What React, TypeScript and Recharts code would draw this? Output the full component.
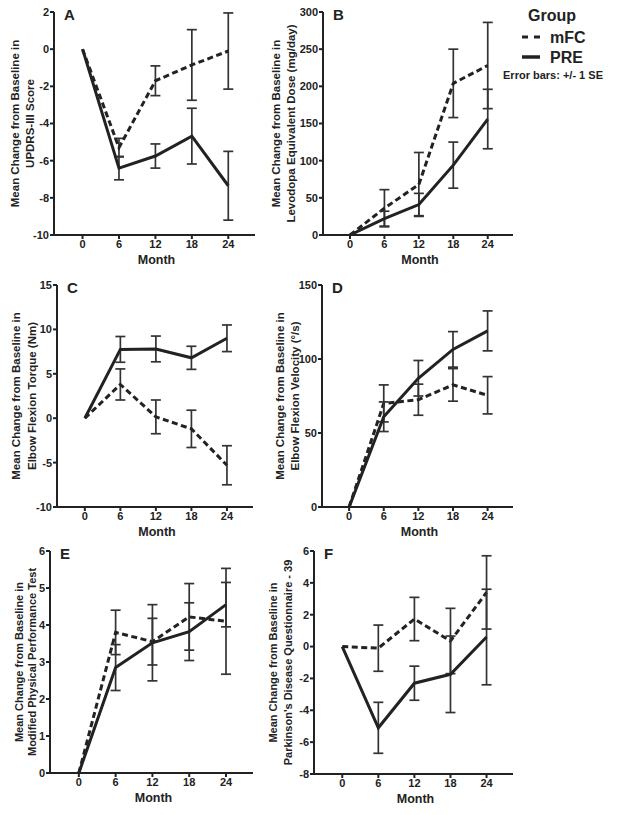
import React from "react";
import { ComposedChart, Line, XAxis, YAxis, ErrorBar, Label } from "recharts";

const months = [0, 6, 12, 18, 24];
const monthTicks = [0, 6, 12, 18, 24];
const xDomain: [number, number] = [-4.7, 28.4];

// A - UPDRS-III
const updrsMfc = [0, -5.3, -1.7, -0.85, -0.1];
const updrsMfcSe = [0, 0.5, 0.8, 1.9, 2.05];
const updrsPre = [0, -6.4, -5.75, -4.68, -7.35];
const updrsPreSe = [0, 0.63, 0.65, 1.5, 1.85];
const updrsTicks = [-10, -8, -6, -4, -2, 0, 2];

// B - levodopa equivalent dose
const ledMfc = [0, 36, 68, 204, 228];
const ledMfcSe = [0, 25, 43, 46, 58];
const ledPre = [0, 22, 41, 94, 156];
const ledPreSe = [0, 10, 15, 31, 40];
const ledTicks = [0, 50, 100, 150, 200, 250, 300];

// C - elbow flexion torque
const torqueMfc = [0, 3.8, 0.15, -1.2, -5.3];
const torqueMfcSe = [0, 1.75, 1.9, 2.1, 2.2];
const torquePre = [0, 7.75, 7.8, 6.8, 9.0];
const torquePreSe = [0, 1.45, 1.45, 1.3, 1.5];
const torqueTicks = [-10, -5, 0, 5, 10, 15];

// D - elbow flexion velocity
const velocityMfc = [0, 70, 72.5, 82.5, 75.5];
const velocityMfcSe = [0, 12.5, 10.5, 11, 12.6];
const velocityPre = [0, 61, 87, 106.5, 119];
const velocityPreSe = [0, 10, 12, 12, 13.5];
const velocityTicks = [0, 50, 100, 150];

// E - modified physical performance test
const mpptMfc = [0, 3.8, 3.55, 4.22, 4.1];
const mpptMfcSe = [0, 0.6, 0.63, 0.9, 1.43];
const mpptPre = [0, 2.85, 3.52, 3.82, 4.55];
const mpptPreSe = [0, 0.62, 1.03, 0.78, 0.6];
const mpptTicks = [0, 1, 2, 3, 4, 5, 6];

// F - PDQ-39
const pdqMfc = [0, -0.1, 1.73, 0.35, 3.4];
const pdqMfcSe = [0, 1.45, 1.36, 2.05, 2.3];
const pdqPre = [0, -5.1, -2.3, -1.74, 0.6];
const pdqPreSe = [0, 1.6, 1.07, 2.4, 3.0];
const pdqTicks = [-8, -6, -4, -2, 0, 2, 4, 6];

const FONT = "'Liberation Sans', Arial, sans-serif";
const INK = "#222";

type Box = { left: number; top: number; plotLeft: number; plotTop: number; plotRight: number; plotBottom: number };

type PanelProps = {
  letter: string;
  box: Box;
  mfc: number[];
  mfcSe: number[];
  pre: number[];
  preSe: number[];
  yDomain: [number, number];
  yTicks: number[];
  title: [string, string];
  titleX: [number, number];
  titleSize?: number;
};

function Panel(p: PanelProps) {
  const { left, top, plotLeft, plotTop, plotRight, plotBottom } = p.box;
  const width = plotRight - left + 12;
  const height = plotBottom - top + 34;
  const rows = months.map((m, i) => ({
    month: m,
    mfc: p.mfc[i],
    mfcSe: p.mfcSe[i],
    pre: p.pre[i],
    preSe: p.preSe[i],
  }));
  const cy = (plotTop + plotBottom) / 2 - top;
  const tickStyle = { fill: INK, fontSize: 11, fontWeight: 700, fontFamily: FONT };

  return (
    <div style={{ position: "absolute", left, top }}>
      <ComposedChart
        width={width}
        height={height}
        data={rows}
        margin={{ top: plotTop - top, right: 12, left: 0, bottom: 0 }}
      >
        <XAxis
          type="number"
          dataKey="month"
          domain={xDomain}
          ticks={monthTicks}
          allowDataOverflow
          height={34}
          stroke={INK}
          axisLine={{ stroke: INK, strokeWidth: 2 }}
          tickLine={{ stroke: INK, strokeWidth: 2 }}
          tickSize={4}
          tickMargin={1}
          tick={tickStyle}
        >
          <Label
            content={() => (
              <text
                x={(plotLeft + plotRight) / 2 - left + 2}
                y={plotBottom - top + 25}
                textAnchor="middle"
                dominantBaseline="central"
                fill={INK}
                fontSize={12.5}
                fontWeight={700}
                fontFamily={FONT}
              >
                Month
              </text>
            )}
          />
        </XAxis>
        <YAxis
          type="number"
          domain={p.yDomain}
          ticks={p.yTicks}
          allowDataOverflow
          width={plotLeft - left}
          axisLine={{ stroke: INK, strokeWidth: 2 }}
          tickLine={{ stroke: INK, strokeWidth: 2 }}
          tickSize={4}
          tickMargin={1}
          tick={tickStyle}
        >
          <Label
            content={() => (
              <g fill={INK} fontSize={p.titleSize ?? 11.5} fontWeight={700} fontFamily={FONT}>
                {p.title.map((t, i) => {
                  const x = p.titleX[i] - left;
                  return (
                    <text
                      key={i}
                      x={x}
                      y={cy}
                      textAnchor="middle"
                      dominantBaseline="central"
                      transform={`rotate(-90, ${x}, ${cy})`}
                    >
                      {t}
                    </text>
                  );
                })}
              </g>
            )}
          />
        </YAxis>
        <Line
          dataKey="mfc"
          stroke={INK}
          strokeWidth={3}
          strokeDasharray="6 3.5"
          dot={false}
          activeDot={false}
          isAnimationActive={false}
        >
          <ErrorBar dataKey="mfcSe" direction="y" width={5} stroke="#333" strokeWidth={1.7} isAnimationActive={false} />
        </Line>
        <Line
          dataKey="pre"
          stroke={INK}
          strokeWidth={3}
          dot={false}
          activeDot={false}
          isAnimationActive={false}
        >
          <ErrorBar dataKey="preSe" direction="y" width={5} stroke="#333" strokeWidth={1.7} isAnimationActive={false} />
        </Line>
      </ComposedChart>
      <div
        style={{
          position: "absolute",
          left: plotLeft - left + 10,
          top: plotTop - top - 5,
          fontFamily: FONT,
          fontWeight: 700,
          fontSize: 15,
          color: INK,
          lineHeight: "16px",
        }}
      >
        {p.letter}
      </div>
    </div>
  );
}

function GroupLegend() {
  return (
    <svg
      width={130}
      height={90}
      style={{ position: "absolute", left: 490, top: 0 }}
      fontFamily={FONT}
      fontWeight={700}
      fill={INK}
    >
      <text x={62} y={15} textAnchor="middle" dominantBaseline="central" fontSize={16}>
        Group
      </text>
      <line x1={32} y1={37} x2={50} y2={37} stroke={INK} strokeWidth={3} strokeDasharray="6 6" />
      <text x={60} y={37} dominantBaseline="central" fontSize={16}>
        mFC
      </text>
      <line x1={32} y1={57} x2={50} y2={57} stroke={INK} strokeWidth={3.5} />
      <text x={60} y={57} dominantBaseline="central" fontSize={16}>
        PRE
      </text>
      <text x={63} y={75} textAnchor="middle" dominantBaseline="central" fontSize={11}>
        Error bars: +/- 1 SE
      </text>
    </svg>
  );
}

export default function App() {
  return (
    <div style={{ position: "absolute", left: 0, top: 0, width: 620, height: 815, background: "#fff" }}>
      <Panel
        letter="A"
        box={{ left: 0, top: 0, plotLeft: 54, plotTop: 12, plotRight: 255, plotBottom: 235 }}
        mfc={updrsMfc}
        mfcSe={updrsMfcSe}
        pre={updrsPre}
        preSe={updrsPreSe}
        yDomain={[-10, 2]}
        yTicks={updrsTicks}
        title={["Mean Change from Baseline in", "UPDRS-III Score"]}
        titleX={[15, 30]}
      />
      <Panel
        letter="B"
        box={{ left: 266, top: 0, plotLeft: 323, plotTop: 12, plotRight: 513, plotBottom: 235 }}
        mfc={ledMfc}
        mfcSe={ledMfcSe}
        pre={ledPre}
        preSe={ledPreSe}
        yDomain={[0, 300]}
        yTicks={ledTicks}
        title={["Mean Change from Baseline in", "Levodopa Equivalent Dose (mg/day)"]}
        titleX={[276, 291]}
      />
      <Panel
        letter="C"
        box={{ left: 0, top: 272, plotLeft: 57, plotTop: 285, plotRight: 253, plotBottom: 507 }}
        mfc={torqueMfc}
        mfcSe={torqueMfcSe}
        pre={torquePre}
        preSe={torquePreSe}
        yDomain={[-10, 15]}
        yTicks={torqueTicks}
        title={["Mean Change from Baseline in", "Elbow Flexion Torque (Nm)"]}
        titleX={[16, 32]}
      />
      <Panel
        letter="D"
        box={{ left: 266, top: 272, plotLeft: 322, plotTop: 285, plotRight: 513, plotBottom: 507 }}
        mfc={velocityMfc}
        mfcSe={velocityMfcSe}
        pre={velocityPre}
        preSe={velocityPreSe}
        yDomain={[0, 150]}
        yTicks={velocityTicks}
        title={["Mean Change from Baseline in", "Elbow Flexion Velocity (°/s)"]}
        titleX={[280, 295]}
      />
      <Panel
        letter="E"
        box={{ left: 0, top: 538, plotLeft: 50, plotTop: 551, plotRight: 253, plotBottom: 773 }}
        mfc={mpptMfc}
        mfcSe={mpptMfcSe}
        pre={mpptPre}
        preSe={mpptPreSe}
        yDomain={[0, 6]}
        yTicks={mpptTicks}
        title={["Mean Change from Baseline in", "Modified Physical Performance Test"]}
        titleX={[19, 32]}
        titleSize={11}
      />
      <Panel
        letter="F"
        box={{ left: 260, top: 538, plotLeft: 314, plotTop: 551, plotRight: 513, plotBottom: 774 }}
        mfc={pdqMfc}
        mfcSe={pdqMfcSe}
        pre={pdqPre}
        preSe={pdqPreSe}
        yDomain={[-8, 6]}
        yTicks={pdqTicks}
        title={["Mean Change from Baseline in", "Parkinson's Disease Questionnaire - 39"]}
        titleX={[273, 288]}
        titleSize={11}
      />
      <GroupLegend />
    </div>
  );
}
